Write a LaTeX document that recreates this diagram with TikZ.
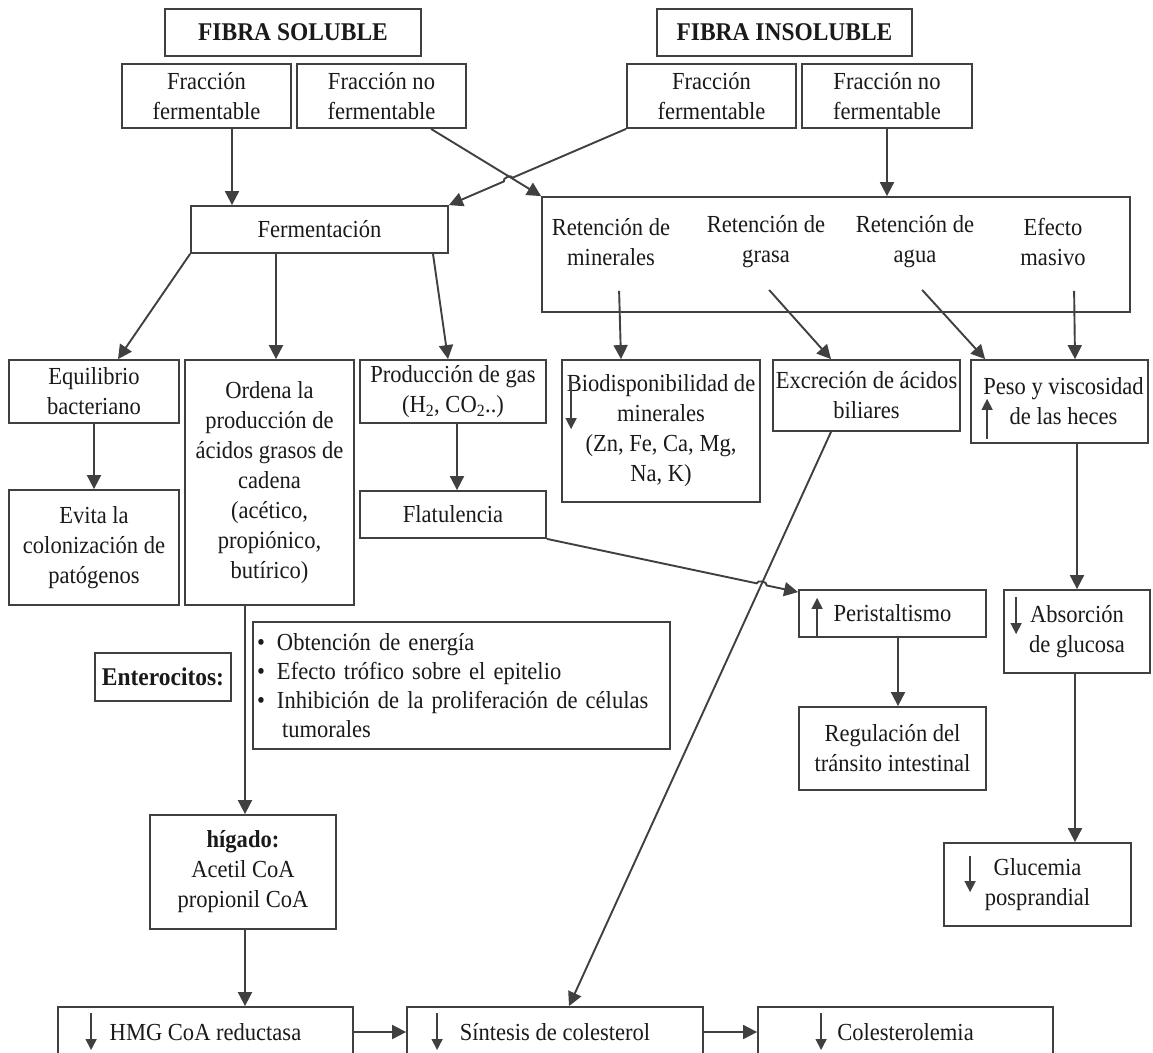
\documentclass[tikz,border=0pt]{standalone}
\usepackage{fontspec}
\setmainfont{Liberation Serif}[FakeStretch=0.92]
\usetikzlibrary{arrows.meta,calc}
\definecolor{linecol}{HTML}{404040}
\definecolor{inkcol}{HTML}{1A1A1A}
\begin{document}
\begin{tikzpicture}[x=1pt,y=-1pt,
  box/.style={draw=linecol, line width=1.8pt, inner sep=0pt, align=center, text=inkcol,
              font=\fontsize{24.5}{30}\selectfont},
  lbl/.style={inner sep=0pt, align=center, text=inkcol, font=\fontsize{24.5}{30}\selectfont},
  bt/.style={font=\fontsize{25.5}{30}\selectfont\bfseries},
  arr/.style={draw=linecol, line width=1.9pt, -{Triangle[length=14pt,width=14pt]}},
  sarr/.style={draw=linecol, line width=1.5pt, -{Triangle[length=11pt,width=11pt]}}
]
\clip (0,0) rectangle (1153,1052);
\fill[white] (0,0) rectangle (1153,1052);

% ---- top row: fibre types and fractions
\node[box,bt,minimum width=256pt,minimum height=47pt] (fs) at (293,32.5) {FIBRA SOLUBLE};
\node[box,bt,minimum width=255pt,minimum height=47pt] (fi) at (784.5,32.5) {FIBRA INSOLUBLE};
\node[box,minimum width=169pt,minimum height=64pt] (sf)  at (206.5,96) {Fracción\\fermentable};
\node[box,minimum width=169pt,minimum height=64pt] (snf) at (381.5,96) {Fracción no\\fermentable};
\node[box,minimum width=169pt,minimum height=64pt] (if)  at (711.5,96) {Fracción\\fermentable};
\node[box,minimum width=170pt,minimum height=64pt] (inf) at (887,96)   {Fracción no\\fermentable};

% ---- second row
\node[box,minimum width=257pt,minimum height=47pt] (ferm) at (319.5,229.5) {Fermentación};
\node[box,minimum width=588pt,minimum height=115pt] (ret) at (836,254.5) {};
\node[lbl] (rm) at (611,242)  {Retención de\\minerales};
\node[lbl] (rg) at (766,242)  {Retención de\\grasa};
\node[lbl] (ra) at (915,242)  {Retención de\\agua};
\node[lbl] (re) at (1053,242) {Efecto\\masivo};

% ---- third row
\node[box,minimum width=170pt,minimum height=63pt]  (eq)   at (94,391.5)    {Equilibrio\\bacteriano};
\node[box,minimum width=170pt,minimum height=115pt] (ev)   at (94,547.5)    {Evita la\\colonización de\\patógenos};
\node[box,minimum width=169pt,minimum height=245pt] (ord)  at (269.5,482.5) {Ordena la\\producción de\\ácidos grasos de\\cadena\\(acético,\\propiónico,\\butírico)};
\node[box,minimum width=186pt,minimum height=63pt]  (prod) at (453,391.5)   {Producción de gas\\(H\textsubscript{2}, CO\textsubscript{2}..)};
\node[box,minimum width=186pt,minimum height=47pt]  (flat) at (453,514.5)   {Flatulencia};
\node[box,minimum width=198pt,minimum height=142pt] (bio)  at (661,431)     {Biodisponibilidad de\\minerales\\(Zn, Fe, Ca, Mg,\\Na, K)};
\node[box,minimum width=187pt,minimum height=71pt]  (exc)  at (866.5,395.5) {Excreción de ácidos\\biliares};
\node[box,minimum width=177pt,minimum height=83pt]  (peso) at (1059.5,401.5) {\hspace*{8pt}Peso y viscosidad\\\hspace*{8pt}de las heces};

% ---- lower area
\node[box,minimum width=187pt,minimum height=47pt]  (peri) at (892.5,613.5) {Peristaltismo};
\node[box,minimum width=187pt,minimum height=83pt]  (reg)  at (892.5,748.5) {Regulación del\\tránsito intestinal};
\node[box,minimum width=146pt,minimum height=83pt]  (abs)  at (1077,631.5)  {Absorción\\de glucosa};
\node[box,minimum width=187pt,minimum height=83pt]  (gluc) at (1037.5,884.5) {Glucemia\\posprandial};
\node[box,bt,minimum width=136pt,minimum height=48pt] (ent) at (163,677) {Enterocitos:};
\node[box,minimum width=417pt,minimum height=127pt,text width=409pt,align=left,
      font=\fontsize{24.5}{29}\selectfont] (bul) at (461.5,685.5)
  {\makebox[20pt][l]{\textbullet}Obtención de energía\\
   \makebox[20pt][l]{\textbullet}Efecto trófico sobre el epitelio\\
   \makebox[20pt][l]{\textbullet}Inhibición de la proliferación de células\\
   \hspace*{25pt}tumorales};
\node[box,minimum width=186pt,minimum height=114pt] (hig) at (243,872) {\textbf{hígado:}\\Acetil CoA\\propionil CoA};

% ---- bottom row
\node[box,minimum width=295pt,minimum height=50pt] (hmg)  at (205.5,1032) {HMG CoA reductasa};
\node[box,minimum width=296pt,minimum height=50pt] (sint) at (555,1032)   {Síntesis de colesterol};
\node[box,minimum width=295pt,minimum height=50pt] (col)  at (905.5,1032) {Colesterolemia};

% ---- connectors
\draw[arr] ([xshift=25.5pt]sf.south) -- ([xshift=25.5pt]sf.south |- ferm.north);
\draw[arr] ([xshift=49.5pt]snf.south) -- (ret.north west);
\draw[arr] (if.south west) -- ($(if.south west)!0.64!(ferm.north east)$)
  to[bend right=90] ($(if.south west)!0.69!(ferm.north east)$) -- (ferm.north east);
\draw[arr] (inf.south) -- (inf.south |- ret.north);

\draw[arr] ([xshift=78pt,yshift=22pt]ret.south west)  -- ([xshift=-40pt]bio.north);
\draw[arr] ([xshift=228pt,yshift=23pt]ret.south west) -- ([xshift=-35.5pt]exc.north);
\draw[arr] ([xshift=381pt,yshift=23pt]ret.south west) -- ([xshift=15pt]peso.north west);
\draw[arr] ([xshift=533pt,yshift=22pt]ret.south west) -- ([xshift=15.5pt]peso.north);

\draw[arr] (ferm.south west) -- ([xshift=24pt]eq.north);
\draw[arr] ([xshift=-43.5pt]ferm.south) -- ([xshift=-43.5pt]ferm.south |- ord.north);
\draw[arr] ([xshift=113.5pt]ferm.south) -- ([xshift=-5pt]prod.north);
\draw[arr] (eq.south) -- (ev.north);
\draw[arr] ([xshift=4pt]prod.south) -- ([xshift=4pt]prod.south |- flat.north);

\coordinate (periin) at ([yshift=-3pt]peri.north west);
\draw[arr] (flat.south east) -- ($(flat.south east)!0.835!(periin)$)
  to[bend left=90] ($(flat.south east)!0.875!(periin)$) -- (periin);
\draw[arr] ([xshift=-35.5pt]exc.south) -- ([xshift=14pt]sint.north);

\draw[arr] ([xshift=17.5pt]peso.south) -- ([xshift=17.5pt]peso.south |- abs.north);
\draw[arr] ([xshift=-2pt]abs.south) -- ([xshift=-2pt]abs.south |- gluc.north);
\draw[arr] ([xshift=5.5pt]peri.south) -- ([xshift=5.5pt]peri.south |- reg.north);

\draw[arr] ([xshift=-24.5pt]ord.south) -- ([xshift=-24.5pt]ord.south |- hig.north);
\draw[arr] ([xshift=2pt]hig.south) -- ([xshift=2pt]hig.south |- hmg.north);
\draw[arr] (hmg.east) -- (sint.west);
\draw[arr] (sint.east) -- (col.west);

% ---- increase / decrease marks inside boxes
\draw[sarr] ([xshift=10pt,yshift=-22pt]bio.north west) -- ([xshift=10pt,yshift=-70pt]bio.north west);
\draw[sarr] ([xshift=17pt,yshift=5pt]peso.south west) -- ([xshift=17pt,yshift=45pt]peso.south west);
\draw[sarr] ([xshift=19pt]peri.south west) -- ([xshift=19pt,yshift=40pt]peri.south west);
\draw[sarr] ([xshift=13pt,yshift=-8pt]abs.north west) -- ([xshift=13pt,yshift=-45pt]abs.north west);
\draw[sarr] ([xshift=27pt,yshift=-14pt]gluc.north west) -- ([xshift=27pt,yshift=-50pt]gluc.north west);
\draw[sarr] ([xshift=34pt,yshift=19pt]hmg.west) -- ([xshift=34pt,yshift=-18pt]hmg.west);
\draw[sarr] ([xshift=31pt,yshift=19pt]sint.west) -- ([xshift=31pt,yshift=-18pt]sint.west);
\draw[sarr] ([xshift=64pt,yshift=19pt]col.west) -- ([xshift=64pt,yshift=-18pt]col.west);
\end{tikzpicture}
\end{document}
